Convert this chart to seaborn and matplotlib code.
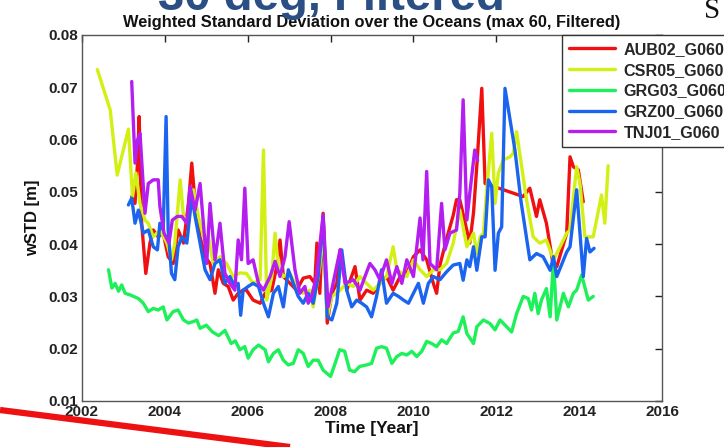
import matplotlib
matplotlib.use("Agg")
import matplotlib.pyplot as plt
from matplotlib.lines import Line2D
import seaborn as sns
import pandas as pd

# (year, wSTD [m])
aub = [(2003.20, 0.0491), (2003.28, 0.0478), (2003.34, 0.0555), (2003.38, 0.0644), (2003.44, 0.0440),
       (2003.54, 0.0344), (2003.64, 0.0402), (2003.72, 0.0427), (2003.84, 0.0414), (2003.96, 0.0421),
       (2004.08, 0.0376), (2004.20, 0.0363), (2004.32, 0.0427), (2004.45, 0.0402), (2004.57, 0.0478),
       (2004.65, 0.0555), (2004.73, 0.0478), (2004.85, 0.0414), (2004.97, 0.0376), (2005.09, 0.0363),
       (2005.21, 0.0306), (2005.29, 0.0351), (2005.41, 0.0325), (2005.53, 0.0319), (2005.65, 0.0293),
       (2005.77, 0.0306), (2005.89, 0.0312), (2005.97, 0.0312), (2006.13, 0.0293), (2006.30, 0.0287),
       (2006.42, 0.0306), (2006.58, 0.0312), (2006.70, 0.0357), (2006.78, 0.0408), (2006.86, 0.0338),
       (2007.02, 0.0325), (2007.18, 0.0312), (2007.34, 0.0335), (2007.50, 0.0338), (2007.62, 0.0325),
       (2007.67, 0.0402), (2007.74, 0.0306), (2007.82, 0.0459), (2007.92, 0.0249), (2008.03, 0.0306),
       (2008.15, 0.0325), (2008.23, 0.0389), (2008.39, 0.0312), (2008.59, 0.0357), (2008.71, 0.0293),
       (2008.87, 0.0312), (2009.03, 0.0306), (2009.19, 0.0325), (2009.35, 0.0338), (2009.51, 0.0312),
       (2009.68, 0.0338), (2009.84, 0.0344), (2010.00, 0.0376), (2010.16, 0.0389), (2010.32, 0.0370),
       (2010.48, 0.0325), (2010.56, 0.0306), (2010.64, 0.0360), (2010.80, 0.0410), (2010.96, 0.0455),
       (2011.04, 0.0485), (2011.12, 0.0485), (2011.36, 0.0402), (2011.45, 0.0460), (2011.53, 0.0550),
       (2011.65, 0.0698), (2011.73, 0.0516), (2012.65, 0.0491), (2012.81, 0.0507),
       (2012.97, 0.0453), (2013.05, 0.0485), (2013.21, 0.0440), (2013.38, 0.0357), (2013.46, 0.0357),
       (2013.70, 0.0421), (2013.78, 0.0567), (2013.86, 0.0548), (2013.98, 0.0542), (2014.10, 0.0481)]

csr = [(2002.37, 0.0734), (2002.68, 0.0657), (2002.85, 0.0532), (2003.12, 0.0620), (2003.22, 0.0491),
       (2003.30, 0.0536), (2003.40, 0.0478), (2003.52, 0.0446), (2003.60, 0.0440), (2003.72, 0.0414),
       (2003.88, 0.0427), (2004.05, 0.0402), (2004.16, 0.0370), (2004.24, 0.0402), (2004.37, 0.0523),
       (2004.45, 0.0453), (2004.57, 0.0440), (2004.69, 0.0504), (2004.81, 0.0453), (2004.93, 0.0414),
       (2005.05, 0.0414), (2005.17, 0.0363), (2005.33, 0.0376), (2005.49, 0.0363), (2005.65, 0.0338),
       (2005.81, 0.0345), (2005.97, 0.0344), (2006.13, 0.0325), (2006.30, 0.0332), (2006.38, 0.0580),
       (2006.46, 0.0293), (2006.58, 0.0338), (2006.66, 0.0421), (2006.74, 0.0357), (2006.86, 0.0338),
       (2007.02, 0.0344), (2007.18, 0.0319), (2007.34, 0.0306), (2007.50, 0.0312), (2007.58, 0.0280),
       (2007.74, 0.0357), (2007.82, 0.0430), (2007.92, 0.0261), (2008.03, 0.0300), (2008.23, 0.0312),
       (2008.39, 0.0325), (2008.55, 0.0319), (2008.71, 0.0338), (2008.87, 0.0325), (2009.03, 0.0312),
       (2009.19, 0.0325), (2009.35, 0.0338), (2009.51, 0.0395), (2009.60, 0.0351), (2009.84, 0.0338),
       (2010.00, 0.0370), (2010.16, 0.0351), (2010.32, 0.0338), (2010.48, 0.0351), (2010.64, 0.0351),
       (2010.80, 0.0363), (2010.96, 0.0402), (2011.12, 0.0465), (2011.29, 0.0395), (2011.45, 0.0421),
       (2011.53, 0.0382), (2011.61, 0.0414), (2011.69, 0.0421), (2011.77, 0.0504), (2011.89, 0.0612),
       (2011.97, 0.0478), (2012.05, 0.0536), (2012.17, 0.0561), (2012.33, 0.0567), (2012.41, 0.0574),
       (2012.49, 0.0615), (2012.73, 0.0485), (2012.89, 0.0414), (2013.05, 0.0402), (2013.21, 0.0408),
       (2013.38, 0.0370), (2013.54, 0.0395), (2013.70, 0.0421), (2013.78, 0.0427), (2013.94, 0.0548),
       (2014.02, 0.0516), (2014.14, 0.0414), (2014.34, 0.0414), (2014.54, 0.0494), (2014.62, 0.0440),
       (2014.70, 0.0550)]

grg = [(2002.64, 0.0351), (2002.72, 0.0316), (2002.80, 0.0325), (2002.88, 0.0310), (2002.96, 0.0322),
       (2003.04, 0.0306), (2003.16, 0.0303), (2003.36, 0.0296), (2003.48, 0.0287), (2003.60, 0.0271),
       (2003.72, 0.0277), (2003.84, 0.0274), (2003.96, 0.0280), (2004.05, 0.0255), (2004.20, 0.0271),
       (2004.32, 0.0274), (2004.45, 0.0255), (2004.57, 0.0249), (2004.69, 0.0252), (2004.77, 0.0255),
       (2004.85, 0.0239), (2005.00, 0.0245), (2005.15, 0.0232), (2005.30, 0.0225), (2005.45, 0.0235),
       (2005.60, 0.0210), (2005.70, 0.0215), (2005.81, 0.0198), (2005.93, 0.0204), (2006.01, 0.0182),
       (2006.13, 0.0198), (2006.26, 0.0207), (2006.42, 0.0198), (2006.50, 0.0175), (2006.62, 0.0191),
       (2006.74, 0.0198), (2006.86, 0.0178), (2006.98, 0.0169), (2007.10, 0.0172), (2007.22, 0.0198),
       (2007.34, 0.0191), (2007.46, 0.0166), (2007.58, 0.0178), (2007.70, 0.0178), (2007.82, 0.0159),
       (2008.00, 0.0147), (2008.11, 0.0172), (2008.22, 0.0198), (2008.34, 0.0195), (2008.46, 0.0159),
       (2008.58, 0.0156), (2008.70, 0.0166), (2008.87, 0.0169), (2008.99, 0.0172), (2009.11, 0.0201),
       (2009.23, 0.0204), (2009.35, 0.0201), (2009.48, 0.0172), (2009.60, 0.0185), (2009.72, 0.0191),
       (2009.84, 0.0188), (2009.96, 0.0195), (2010.08, 0.0185), (2010.20, 0.0195), (2010.32, 0.0214),
       (2010.44, 0.0210), (2010.56, 0.0204), (2010.68, 0.0217), (2010.80, 0.0210), (2010.96, 0.0230),
       (2011.08, 0.0233), (2011.12, 0.0242), (2011.20, 0.0261), (2011.29, 0.0229), (2011.45, 0.0210),
       (2011.53, 0.0242), (2011.69, 0.0255), (2011.85, 0.0248), (2011.97, 0.0236), (2012.09, 0.0255),
       (2012.25, 0.0242), (2012.37, 0.0232), (2012.49, 0.0267), (2012.65, 0.0300), (2012.77, 0.0296),
       (2012.85, 0.0274), (2012.93, 0.0306), (2013.01, 0.0267), (2013.09, 0.0293), (2013.21, 0.0315),
       (2013.30, 0.0261), (2013.38, 0.0370), (2013.46, 0.0255), (2013.62, 0.0306), (2013.74, 0.0280),
       (2013.86, 0.0306), (2013.94, 0.0312), (2014.06, 0.0341), (2014.22, 0.0293), (2014.34, 0.0300)]

grz = [(2003.12, 0.0475), (2003.20, 0.0488), (2003.28, 0.0440), (2003.36, 0.0465), (2003.48, 0.0421),
       (2003.60, 0.0427), (2003.72, 0.0395), (2003.82, 0.0389), (2003.88, 0.0440), (2003.96, 0.0427),
       (2004.03, 0.0644), (2004.08, 0.0427), (2004.16, 0.0344), (2004.24, 0.0332), (2004.32, 0.0395),
       (2004.41, 0.0414), (2004.53, 0.0402), (2004.65, 0.0491), (2004.73, 0.0453), (2004.85, 0.0402),
       (2004.97, 0.0351), (2005.09, 0.0332), (2005.21, 0.0363), (2005.33, 0.0370), (2005.45, 0.0325),
       (2005.57, 0.0338), (2005.69, 0.0319), (2005.77, 0.0325), (2005.83, 0.0264), (2005.89, 0.0312),
       (2006.01, 0.0319), (2006.13, 0.0325), (2006.26, 0.0319), (2006.38, 0.0287), (2006.50, 0.0261),
       (2006.62, 0.0306), (2006.74, 0.0319), (2006.86, 0.0280), (2006.98, 0.0351), (2007.10, 0.0325),
       (2007.22, 0.0300), (2007.34, 0.0287), (2007.46, 0.0306), (2007.58, 0.0287), (2007.70, 0.0338),
       (2007.82, 0.0453), (2007.92, 0.0261), (2008.03, 0.0255), (2008.15, 0.0287), (2008.27, 0.0389),
       (2008.39, 0.0312), (2008.51, 0.0280), (2008.63, 0.0293), (2008.75, 0.0287), (2008.87, 0.0280),
       (2008.99, 0.0261), (2009.11, 0.0300), (2009.23, 0.0351), (2009.35, 0.0287), (2009.51, 0.0306),
       (2009.64, 0.0300), (2009.76, 0.0293), (2009.88, 0.0287), (2010.00, 0.0306), (2010.12, 0.0325),
       (2010.24, 0.0287), (2010.36, 0.0325), (2010.48, 0.0338), (2010.64, 0.0332), (2010.80, 0.0347),
       (2010.96, 0.0360), (2011.12, 0.0363), (2011.20, 0.0331), (2011.29, 0.0370), (2011.36, 0.0357),
       (2011.45, 0.0395), (2011.53, 0.0350), (2011.65, 0.0414), (2011.73, 0.0414), (2011.81, 0.0523),
       (2011.89, 0.0510), (2011.97, 0.0350), (2012.05, 0.0421), (2012.13, 0.0433), (2012.21, 0.0698),
       (2012.45, 0.0580), (2012.60, 0.0480), (2012.81, 0.0370), (2012.97, 0.0382), (2013.13, 0.0376),
       (2013.30, 0.0350), (2013.38, 0.0376), (2013.46, 0.0338), (2013.70, 0.0385), (2013.78, 0.0395),
       (2013.94, 0.0504), (2014.10, 0.0338), (2014.18, 0.0411), (2014.26, 0.0385), (2014.36, 0.0392)]

tnj = [(2003.20, 0.0711), (2003.28, 0.0555), (2003.34, 0.0599), (2003.40, 0.0612), (2003.52, 0.0459),
       (2003.60, 0.0516), (2003.72, 0.0523), (2003.84, 0.0523), (2003.88, 0.0472), (2003.98, 0.0421),
       (2004.10, 0.0402), (2004.18, 0.0446), (2004.30, 0.0453), (2004.41, 0.0453), (2004.53, 0.0440),
       (2004.61, 0.0510), (2004.73, 0.0465), (2004.85, 0.0516), (2004.93, 0.0440), (2005.01, 0.0363),
       (2005.09, 0.0478), (2005.21, 0.0370), (2005.33, 0.0440), (2005.45, 0.0344), (2005.57, 0.0325),
       (2005.69, 0.0312), (2005.77, 0.0408), (2005.85, 0.0370), (2005.93, 0.0507), (2006.01, 0.0363),
       (2006.13, 0.0370), (2006.26, 0.0325), (2006.38, 0.0312), (2006.54, 0.0338), (2006.66, 0.0367),
       (2006.78, 0.0338), (2006.90, 0.0376), (2007.00, 0.0443), (2007.14, 0.0351), (2007.26, 0.0306),
       (2007.38, 0.0319), (2007.46, 0.0287), (2007.54, 0.0300), (2007.66, 0.0338), (2007.82, 0.0456),
       (2007.94, 0.0280), (2008.06, 0.0325), (2008.23, 0.0389), (2008.35, 0.0325), (2008.55, 0.0332),
       (2008.71, 0.0312), (2008.83, 0.0338), (2008.95, 0.0363), (2009.07, 0.0351), (2009.19, 0.0332),
       (2009.35, 0.0370), (2009.48, 0.0325), (2009.60, 0.0357), (2009.72, 0.0325), (2009.84, 0.0370),
       (2010.00, 0.0338), (2010.16, 0.0450), (2010.23, 0.0370), (2010.32, 0.0539), (2010.40, 0.0363),
       (2010.56, 0.0351), (2010.68, 0.0478), (2010.76, 0.0389), (2010.88, 0.0421), (2011.04, 0.0427),
       (2011.12, 0.0497), (2011.20, 0.0676), (2011.29, 0.0446), (2011.36, 0.0497), (2011.48, 0.0580),
       (2011.55, 0.0560)]

series_names = ["AUB02_G060", "CSR05_G060", "GRG03_G060", "GRZ00_G060", "TNJ01_G060"]
series_data = [aub, csr, grg, grz, tnj]
series_colors = ["#f01010", "#d2f014", "#1ef05a", "#1a64f0", "#b41ef0"]

rows = []
for name, pts in zip(series_names, series_data):
    for t, v in pts:
        rows.append({"year": t, "wstd": v, "series": name})
df = pd.DataFrame(rows)

sns.set_theme(style="white")
plt.rcParams["font.family"] = ["Liberation Sans", "DejaVu Sans"]
plt.rcParams["font.weight"] = "bold"

fig = plt.figure(figsize=(7.24, 4.47), dpi=100)
ax = fig.add_axes([82 / 724, 1 - 401 / 447, 580 / 724, 366 / 447])

sns.lineplot(data=df, x="year", y="wstd", hue="series", hue_order=series_names,
             palette=series_colors, estimator=None, sort=False, linewidth=2.4, ax=ax)

ax.set_xlim(2002, 2016)
ax.set_ylim(0.01, 0.08)
ax.set_xticks(range(2002, 2017, 2))
ax.set_yticks([0.01, 0.02, 0.03, 0.04, 0.05, 0.06, 0.07, 0.08])
ax.set_yticklabels(["%.2f" % t for t in ax.get_yticks()])
ax.tick_params(direction="in", length=5, width=1, top=True, right=True,
               labelsize=11, colors="#222222", pad=3)
for lab in ax.get_xticklabels() + ax.get_yticklabels():
    lab.set_fontweight("bold")
for sp in ax.spines.values():
    sp.set_color("#555555")
    sp.set_linewidth(1.0)

ax.set_xlabel("Time [Year]", fontsize=12.5, fontweight="bold", labelpad=1, color="#111111")
ax.set_ylabel("wSTD [m]", fontsize=12, fontweight="bold", labelpad=6, color="#111111")
title = ax.set_title("Weighted Standard Deviation over the Oceans (max 60, Filtered)",
                     fontsize=11.8, fontweight="bold", pad=6, color="#111111")
title.set_zorder(5)

ax.legend(loc="upper left", bbox_to_anchor=(562 / 724, 1 - 35 / 447), bbox_transform=fig.transFigure,
          borderaxespad=0, frameon=True, fancybox=False, framealpha=1,
          edgecolor="#333333", handlelength=2.9, handletextpad=0.5, labelspacing=0.36,
          borderpad=0.42, prop={"weight": "bold", "size": 11.6})
ax.get_legend().get_frame().set_linewidth(1.0)

# slide decorations around the chart
fig.text(158 / 724, 1 - 10 / 447, "30 deg, Filtered", fontsize=34, fontweight="bold",
         color="#2b4f84", va="baseline", ha="left", zorder=0)
fig.text(704 / 724, 1 - 18 / 447, "S", fontsize=21, family="Liberation Serif",
         fontweight="normal", color="#111111", va="baseline", ha="left")
fig.add_artist(Line2D([0, 290 / 724], [1 - 410 / 447, 0], transform=fig.transFigure,
                      color="#ee1111", linewidth=4.5, solid_capstyle="butt"))

fig.savefig("out.png", dpi=100)
